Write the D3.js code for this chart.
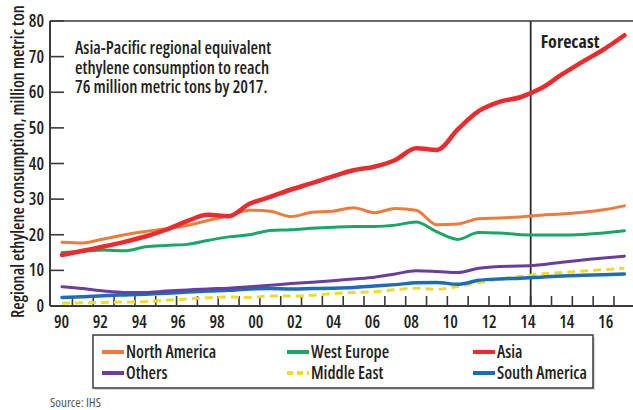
<!DOCTYPE html>
<html>
<head>
<meta charset="utf-8">
<script src="https://cdn.jsdelivr.net/npm/d3@7"></script>
<style>
  html, body { margin: 0; padding: 0; background: #fff; }
  svg { display: block; }
  text { font-family: "Open Sans", "Roboto", sans-serif; font-stretch: 75%; font-weight: 600; fill: #231f20; }
</style>
</head>
<body>
<svg id="chart" width="633" height="410"></svg>
<script>
// Regional equivalent ethylene consumption, million metric tons, 1990–2017
const years = d3.range(1990, 2018);

const northAmerica = [17.9, 17.7, 18.8, 20.0, 20.9, 21.7, 22.6, 24.0, 25.3, 26.9,
  26.6, 25.1, 26.3, 26.6, 27.6, 26.2, 27.4, 26.9, 22.8, 23.0,
  24.5, 24.7, 25.0, 25.5, 25.8, 26.3, 27.0, 28.1];
const westEurope = [15.0, 15.3, 15.7, 15.5, 16.6, 17.0, 17.3, 18.4, 19.4, 20.0,
  21.2, 21.4, 21.8, 22.1, 22.3, 22.3, 22.7, 23.6, 20.8, 18.7,
  20.6, 20.5, 20.0, 19.9, 19.9, 20.1, 20.5, 21.1];
const asia = [14.3, 15.5, 16.7, 18.0, 19.5, 21.4, 23.8, 25.6, 25.2, 28.7,
  30.6, 32.7, 34.5, 36.4, 38.1, 39.1, 41.0, 44.3, 43.8, 49.6,
  54.7, 57.3, 58.6, 61.1, 65.0, 68.6, 72.0, 76.0];
const others = [5.4, 4.9, 4.2, 3.8, 3.8, 4.2, 4.5, 4.8, 5.0, 5.4,
  5.8, 6.3, 6.7, 7.1, 7.6, 8.1, 9.0, 9.9, 9.7, 9.4,
  10.6, 11.1, 11.2, 11.6, 12.3, 12.9, 13.5, 14.0];
const middleEast = [0.8, 0.9, 1.0, 1.1, 1.2, 1.6, 2.0, 2.3, 2.5, 2.4,
  2.8, 2.8, 3.0, 3.5, 3.8, 4.0, 4.6, 5.0, 4.7, 5.5,
  6.5, 7.5, 8.3, 9.0, 9.4, 9.8, 10.2, 10.6];
const southAmerica = [2.4, 2.6, 2.9, 3.1, 3.3, 3.6, 3.9, 4.2, 4.4, 4.8,
  4.9, 4.8, 4.9, 5.0, 5.2, 5.6, 6.0, 6.5, 6.6, 6.1,
  7.2, 7.6, 7.8, 8.1, 8.4, 8.6, 8.8, 9.0];

const xTickLabels = ["90", "92", "94", "96", "98", "00", "02", "04", "06", "08",
  "10", "12", "14", "14", "16"];
const yTicks = [0, 10, 20, 30, 40, 50, 60, 70, 80];
const yearMarks = d3.range(1990.5, 2017, 1);
const forecastBoundary = 2012.5;

const seriesNames = ["North America", "West Europe", "Asia", "Others", "Middle East", "South America"];
const seriesValues = [northAmerica, westEurope, asia, others, middleEast, southAmerica];
const seriesColors = ["#f07a3a", "#17a868", "#ee2a2c", "#6a3d9e", "#f3dc1e", "#1c6cbd"];
const seriesWidths = [3, 3, 4.5, 3, 3, 3.5];
const seriesDash = [null, null, null, null, "8,5", null];

const annotationLines = [
  "Asia-Pacific regional equivalent",
  "ethylene consumption to reach",
  "76 million metric tons by 2017."
];

const svg = d3.select("#chart");
const plot = { left: 50, right: 633, top: 21, bottom: 306 };

const x = d3.scaleLinear().domain([1990, 2017]).range([62, 624.4]);
const y = d3.scaleLinear().domain([0, 80]).range([plot.bottom, plot.top]);
const xLabel = d3.scalePoint().domain(d3.range(xTickLabels.length)).range([61.5, 605.7]);

const axisColor = "#3a3a3a";

// top rule
svg.append("line").attr("x1", plot.left).attr("x2", plot.right)
  .attr("y1", plot.top).attr("y2", plot.top)
  .attr("stroke", axisColor).attr("stroke-width", 1.6);

// y ticks point inward
yTicks.forEach(v => {
  svg.append("line").attr("x1", plot.left).attr("x2", plot.left + 14)
    .attr("y1", y(v)).attr("y2", y(v))
    .attr("stroke", axisColor).attr("stroke-width", 1.6);
  svg.append("text").attr("x", 44).attr("y", y(v)).attr("dy", "0.36em")
    .attr("text-anchor", "end").attr("font-size", 17).text(v);
});

// yearly marks along the bottom
yearMarks.forEach(t => {
  svg.append("line").attr("x1", x(t)).attr("x2", x(t))
    .attr("y1", plot.bottom).attr("y2", plot.bottom - 10)
    .attr("stroke", axisColor).attr("stroke-width", 1.6);
});

xTickLabels.forEach((lab, i) => {
  svg.append("text").attr("x", xLabel(i)).attr("y", 328)
    .attr("text-anchor", "middle").attr("font-size", 17).text(lab);
});

// forecast divider
svg.append("line").attr("x1", x(forecastBoundary)).attr("x2", x(forecastBoundary))
  .attr("y1", plot.top).attr("y2", plot.bottom)
  .attr("stroke", "#2b2b2b").attr("stroke-width", 1.8);
svg.append("text").attr("x", x(forecastBoundary) + 10).attr("y", 48)
  .attr("font-size", 18).style("font-weight", 700).text("Forecast");

// series lines
const line = d3.line()
  .x((d, i) => x(years[i]))
  .y(d => y(d))
  .curve(d3.curveMonotoneX);

const drawOrder = [4, 5, 3, 1, 0, 2];
drawOrder.forEach(k => {
  svg.append("path").datum(seriesValues[k])
    .attr("d", line)
    .attr("fill", "none")
    .attr("stroke", seriesColors[k])
    .attr("stroke-width", seriesWidths[k])
    .attr("stroke-dasharray", seriesDash[k])
    .attr("stroke-linejoin", "round")
    .attr("stroke-linecap", seriesDash[k] ? "butt" : "round");
});

svg.append("line").attr("x1", plot.left).attr("x2", plot.left)
  .attr("y1", plot.top).attr("y2", plot.bottom)
  .attr("stroke", axisColor).attr("stroke-width", 2);
svg.append("line").attr("x1", plot.left).attr("x2", plot.right)
  .attr("y1", plot.bottom).attr("y2", plot.bottom)
  .attr("stroke", axisColor).attr("stroke-width", 2.2);

// y axis title
svg.append("text")
  .attr("transform", `translate(24, ${(8 + 315) / 2}) rotate(-90)`)
  .attr("text-anchor", "middle").attr("font-size", 17)
  .text("Regional ethylene consumption, million metric ton");

// annotation, one text per line
annotationLines.forEach((t, i) => {
  svg.append("text").attr("x", 75).attr("y", 54 + i * 19.5)
    .attr("font-size", 17.2).text(t);
});

// legend
const legend = svg.append("g");
legend.append("rect").attr("x", 95).attr("y", 337).attr("width", 500).attr("height", 53)
  .attr("fill", "#d9d9d9");
legend.append("rect").attr("x", 93).attr("y", 335).attr("width", 500).attr("height", 53)
  .attr("fill", "#fff").attr("stroke", "#3a3a3a").attr("stroke-width", 1.5);

const legendCols = [102, 287, 473];
const legendRows = [352, 373];
seriesNames.forEach((name, k) => {
  const cx = legendCols[k % 3];
  const cy = legendRows[Math.floor(k / 3)];
  legend.append("line").attr("x1", cx).attr("x2", cx + 22)
    .attr("y1", cy).attr("y2", cy)
    .attr("stroke", seriesColors[k]).attr("stroke-width", 4)
    .attr("stroke-dasharray", seriesDash[k] ? "6,4" : null);
  legend.append("text").attr("x", cx + 24).attr("y", cy).attr("dy", "0.36em")
    .attr("font-size", 17).text(name);
});

svg.append("text").attr("x", 50).attr("y", 407).attr("font-size", 13)
  .style("fill", "#555").style("font-weight", 400).text("Source: IHS");
</script>
</body>
</html>
